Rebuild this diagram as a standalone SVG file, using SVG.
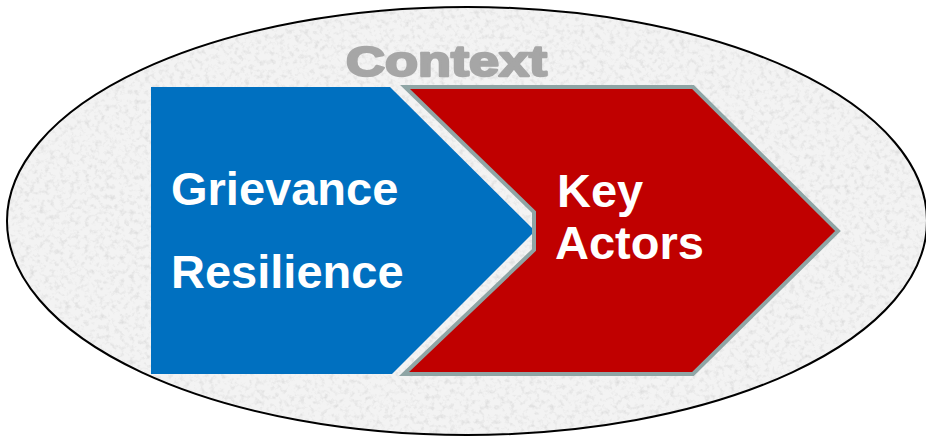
<svg xmlns="http://www.w3.org/2000/svg" width="926" height="443" viewBox="0 0 926 443">
  <defs>
    <!-- speckled stone texture for the context oval -->
    <filter id="grain" x="0" y="0" width="100%" height="100%">
      <feTurbulence type="fractalNoise" baseFrequency="0.2" numOctaves="3" seed="7" result="n"/>
      <feColorMatrix in="n" type="matrix" values="0 0 0 0 0.6  0 0 0 0 0.6  0 0 0 0 0.6  1.3 0 0 0 -0.62" result="g"/>
      <feComposite in="g" in2="SourceGraphic" operator="in"/>
    </filter>
  </defs>
  <style>
    .oval { fill: #f3f3f3; }
    .oval-edge { fill: none; stroke: #000; stroke-width: 2; }
    .title { font-family: "Liberation Sans", Arial, sans-serif; font-weight: bold; font-size: 43px; fill: #a6a6a6; stroke: #a6a6a6; stroke-width: 2.4; stroke-linejoin: round; }
    .label { font-family: "Liberation Sans", Arial, sans-serif; font-weight: bold; font-size: 47px; fill: #ffffff; }
    .blue { fill: #0070c0; }
    .red { fill: #c00000; stroke: #8fa5a5; stroke-width: 4; stroke-linejoin: miter; }
  </style>

  <g id="context">
    <ellipse class="oval" cx="467" cy="221" rx="460" ry="214"/>
    <ellipse cx="467" cy="221" rx="460" ry="214" fill="#f3f3f3" filter="url(#grain)"/>
    <ellipse class="oval-edge" cx="467" cy="221" rx="460" ry="214"/>
    <text class="title" x="346" y="76" textLength="201" lengthAdjust="spacingAndGlyphs">Context</text>
  </g>

  <g id="grievance-resilience">
    <polygon class="blue" points="151,87 390,87 535,231 392,374 151,374"/>
    <text class="label" x="171" y="205">Grievance</text>
    <text class="label" x="171" y="288">Resilience</text>
  </g>

  <g id="key-actors">
    <polygon class="red" points="405,87 693,87 838,231 693,374 404,374 534,250 534,212"/>
    <text class="label" x="557" y="207">Key</text>
    <text class="label" x="555" y="259">Actors</text>
  </g>
</svg>
